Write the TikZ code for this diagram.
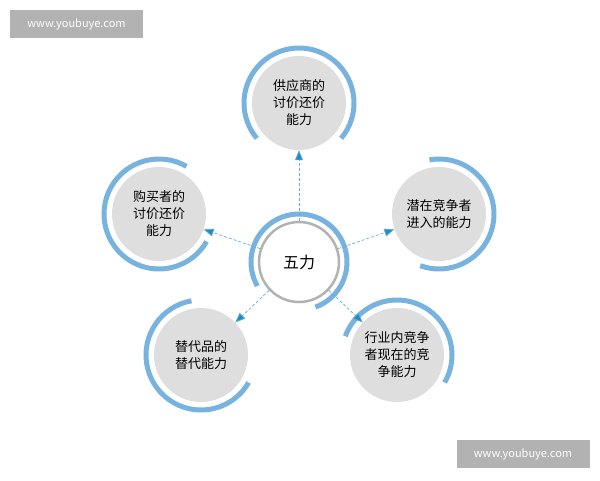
\documentclass[tikz,border=0pt]{standalone}
\usepackage{fontspec}
\setmainfont{Noto Sans CJK SC}
\usetikzlibrary{arrows.meta}
\definecolor{arcblue}{RGB}{120,178,222}
\definecolor{diskgrey}{RGB}{222,222,222}
\definecolor{tipblue}{RGB}{30,140,200}
\tikzset{
  force/.style = {circle, fill=diskgrey, minimum size=94, inner sep=0pt, align=center, font=\fontsize{13}{17}\selectfont},
  hub/.style = {circle, draw=gray!60, line width=2.5pt, fill=white, minimum size=80, inner sep=0pt, font=\fontsize{16}{18}\selectfont},
  link/.style = {densely dashed, draw=tipblue!70, line width=0.7pt, -{Triangle[length=10pt,width=8pt,fill=tipblue]}},
  stamp/.style = {fill=gray!60, text=white, minimum width=133, minimum height=28, inner sep=0pt, font=\fontsize{11}{13}\selectfont},
  rim/.style = {arcblue, line width=5pt}
}
\begin{document}
\begin{tikzpicture}[x=1pt, y=-1pt]
\useasboundingbox (0,0) rectangle (600,480);

% five forces
\node[force] (supplier) at (299,103) {供应商的\\讨价还价\\能力};
\node[force] (buyer) at (159,214) {购买者的\\讨价还价\\能力};
\node[force] (entrant) at (439,214) {潜在竞争者\\进入的能力};
\node[force] (substitute) at (201,355) {替代品的\\替代能力};
\node[force] (rival) at (397,355) {行业内竞争\\者现在的竞\\争能力};
\node[hub] (hub) at (299,262) {五力};

% blue rims
\draw[rim] (hub.center) ++(70:48) arc[start angle=70, end angle=-210, radius=48];
\draw[rim] (supplier.center) ++(40:55) arc[start angle=40, end angle=-220, radius=55];
\draw[rim] (buyer.center) ++(-60:55) arc[start angle=-60, end angle=-330, radius=55];
\draw[rim] (entrant.center) ++(110:55) arc[start angle=110, end angle=-100, radius=55];
\draw[rim] (substitute.center) ++(-100:55) arc[start angle=-100, end angle=-330, radius=55];
\draw[rim] (rival.center) ++(30:55) arc[start angle=30, end angle=-160, radius=55];

% connectors
\draw[link] (hub) -- (supplier);
\draw[link] (hub) -- (buyer);
\draw[link] (hub) -- (entrant);
\draw[link] (hub) -- (substitute);
\draw[link] (hub) -- (rival);

% watermarks
\node[stamp] (wmtop) at (76.5,24) {www.youbuye.com};
\node[stamp] (wmbottom) at (523,454) {www.youbuye.com};
\end{tikzpicture}
\end{document}
